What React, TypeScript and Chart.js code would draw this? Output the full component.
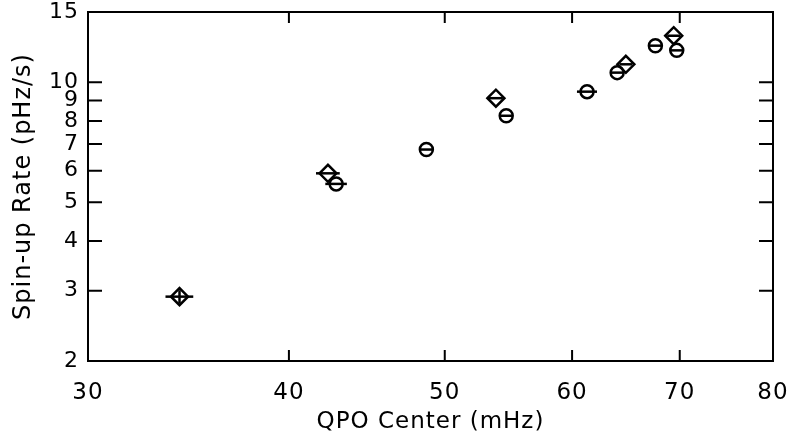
import React, { useEffect, useRef } from 'react';
import { Chart, registerables } from 'chart.js';

Chart.register(...registerables);

const xTickValues = [30, 40, 50, 60, 70, 80];
const yTickValues = [2, 3, 4, 5, 6, 7, 8, 9, 10, 15];

const diamondX = [34.2, 42.3, 53.8, 64.8, 69.4];
const diamondY = [2.9, 5.91, 9.12, 11.09, 13.08];
const diamondXErr = [0.68, 0.72, 0.54, 0.6, 0.65];
const diamondYErr = [0.11, 0, 0, 0, 0];

const circleX = [42.8, 48.7, 54.6, 61.3, 64.0, 67.6, 69.7];
const circleY = [5.56, 6.78, 8.24, 9.47, 10.57, 12.35, 12.02];
const circleXErr = [0.66, 0.4, 0.45, 0.88, 0.55, 0.6, 0.6];
const circleYErr = [0, 0, 0, 0, 0, 0, 0];

const FONT = "'DejaVu Sans', sans-serif";

const spacingPlugin = {
  id: 'spacing',
  beforeUpdate(chart: any) {
    chart.ctx.letterSpacing = '1px';
  },
  beforeDraw(chart: any) {
    chart.ctx.letterSpacing = '1px';
  },
};

const errorBarPlugin = {
  id: 'errorBars',
  afterDatasetsDraw(chart: any) {
    const { ctx, scales } = chart;
    const xs = scales.x;
    const ys = scales.y;
    ctx.save();
    ctx.strokeStyle = '#000';
    ctx.lineWidth = 2.5;
    chart.data.datasets.forEach((ds: any) => {
      ds.data.forEach((p: any, i: number) => {
        const ex = ds.xErr[i];
        const ey = ds.yErr[i];
        const cx = xs.getPixelForValue(p.x);
        const cy = ys.getPixelForValue(p.y);
        if (ex > 0) {
          ctx.beginPath();
          ctx.moveTo(xs.getPixelForValue(p.x - ex), cy);
          ctx.lineTo(xs.getPixelForValue(p.x + ex), cy);
          ctx.stroke();
        }
        if (ey > 0) {
          ctx.beginPath();
          ctx.moveTo(cx, ys.getPixelForValue(p.y - ey));
          ctx.lineTo(cx, ys.getPixelForValue(p.y + ey));
          ctx.stroke();
        }
      });
    });
    ctx.restore();
  },
};

const framePlugin = {
  id: 'frame',
  afterDraw(chart: any) {
    const { ctx, chartArea: a, scales } = chart;
    const xs = scales.x;
    const ys = scales.y;
    ctx.save();
    ctx.strokeStyle = '#000';
    ctx.lineWidth = 2;
    ctx.strokeRect(a.left, a.top, a.right - a.left, a.bottom - a.top);
    ctx.beginPath();
    xTickValues.forEach((v) => {
      const px = xs.getPixelForValue(v);
      if (px <= a.left + 1 || px >= a.right - 1) return;
      ctx.moveTo(px, a.bottom);
      ctx.lineTo(px, a.bottom - 11);
      ctx.moveTo(px, a.top);
      ctx.lineTo(px, a.top + 11);
    });
    yTickValues.forEach((v) => {
      const py = ys.getPixelForValue(v);
      if (py <= a.top + 1 || py >= a.bottom - 1) return;
      ctx.moveTo(a.left, py);
      ctx.lineTo(a.left + 14, py);
      ctx.moveTo(a.right, py);
      ctx.lineTo(a.right - 14, py);
    });
    ctx.stroke();
    ctx.restore();
  },
};

export default function App() {
  const ref = useRef<HTMLCanvasElement | null>(null);

  useEffect(() => {
    document.body.style.margin = '0';
    const canvas = ref.current;
    if (!canvas) return;
    const chart = new Chart(canvas, {
      type: 'scatter',
      data: {
        datasets: [
          {
            label: 'diamonds',
            data: diamondX.map((x, i) => ({ x, y: diamondY[i] })),
            xErr: diamondXErr,
            yErr: diamondYErr,
            pointStyle: 'rectRot',
            pointRadius: 8.5,
            borderColor: '#000',
            backgroundColor: 'rgba(0,0,0,0)',
            borderWidth: 2.5,
          } as any,
          {
            label: 'circles',
            data: circleX.map((x, i) => ({ x, y: circleY[i] })),
            xErr: circleXErr,
            yErr: circleYErr,
            pointStyle: 'circle',
            pointRadius: 6.5,
            borderColor: '#000',
            backgroundColor: 'rgba(0,0,0,0)',
            borderWidth: 2.5,
          } as any,
        ],
      },
      options: {
        responsive: false,
        animation: false,
        devicePixelRatio: 1,
        layout: { padding: { top: 12, right: 17, left: 0, bottom: 0 } },
        plugins: {
          legend: { display: false },
          tooltip: { enabled: false },
        },
        scales: {
          x: {
            type: 'logarithmic',
            min: 30,
            max: 80,
            grid: { display: false, drawTicks: false },
            border: { display: false },
            afterBuildTicks: (s: any) => {
              s.ticks = xTickValues.map((v) => ({ value: v }));
            },
            afterFit: (s: any) => {
              s.height = 73;
              s.paddingLeft = 0;
              s.paddingRight = 0;
            },
            ticks: {
              autoSkip: false,
              maxRotation: 0,
              minRotation: 0,
              padding: 21,
              color: '#000',
              font: { family: FONT, size: 23, lineHeight: 1 },
              callback: (v: any) => String(v),
            },
            title: {
              display: true,
              text: 'QPO Center (mHz)',
              color: '#000',
              font: { family: FONT, size: 23, lineHeight: 1 },
              padding: { top: 0, bottom: 0 },
            },
          },
          y: {
            type: 'logarithmic',
            min: 2,
            max: 15,
            grid: { display: false, drawTicks: false },
            border: { display: false },
            afterBuildTicks: (s: any) => {
              s.ticks = yTickValues.map((v) => ({ value: v }));
            },
            afterFit: (s: any) => {
              s.width = 88;
              s.paddingTop = 0;
              s.paddingBottom = 0;
            },
            ticks: {
              autoSkip: false,
              padding: 9,
              color: '#000',
              font: { family: FONT, size: 22, lineHeight: 1 },
              callback: (v: any) => String(v),
            },
            title: {
              display: true,
              text: 'Spin-up Rate (pHz/s)',
              color: '#000',
              font: { family: FONT, size: 24, lineHeight: 1 },
              padding: { top: 12, bottom: 0 },
            },
          },
        },
      },
      plugins: [spacingPlugin, errorBarPlugin, framePlugin],
    });
    return () => chart.destroy();
  }, []);

  return (
    <div style={{ width: 790, height: 434, background: '#fff' }}>
      <canvas ref={ref} width={790} height={434} style={{ display: 'block' }} />
    </div>
  );
}
